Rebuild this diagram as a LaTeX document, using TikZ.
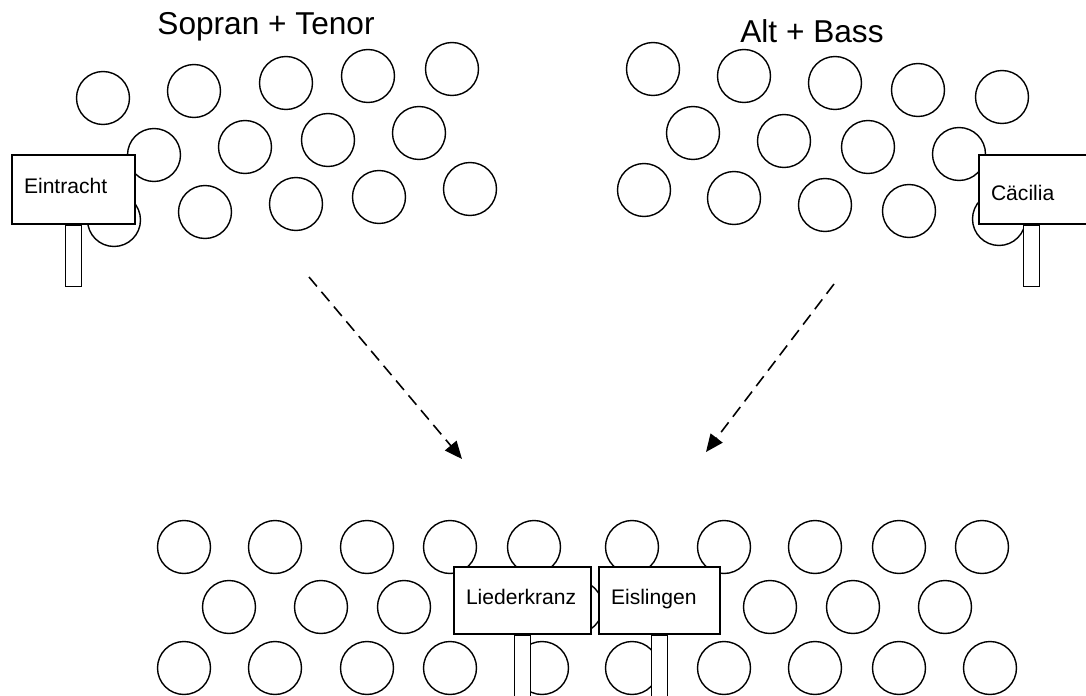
\documentclass[tikz,border=0pt]{standalone}
\usepackage{fontspec}
\setmainfont{Liberation Sans}
\usetikzlibrary{positioning,arrows.meta}

\begin{document}
\begin{tikzpicture}[x=0.02cm,y=-0.02cm,
        singer/.style={line width=0.8pt},
        sign/.style={draw,fill=white,line width=0.8pt,font=\fontsize{12}{14}\selectfont,inner xsep=0.24cm,inner ysep=0pt,align=left,text height=4pt,text depth=0pt},
        post/.style={draw,fill=white,line width=0.8pt,minimum width=0.33cm,minimum height=1.22cm,inner sep=0pt},
        title/.style={font=\fontsize{18}{22}\selectfont,anchor=base},
        move/.style={dash pattern=on 7pt off 4pt,line width=0.9pt,-{Triangle[length=10pt,width=8.5pt]}}]
            \useasboundingbox (0,0) rectangle (1086,696);
            \clip (0,0) rectangle (1086,696);

            \node[title] (sopran) at (266,35) {Sopran + Tenor};
            \node[title] (alt) at (812,43) {Alt + Bass};

            % Sopran + Tenor
            \foreach \px/\py in {103/98,194/91,286/83,368/76,452/69,
                                 154/155,245/147,328/140,419/133,
                                 114/220,205/212,296/204,379/197,470/189}
                \draw[singer] (\px,\py) circle[radius=0.53cm];

            % Alt + Bass
            \foreach \px/\py in {653/69,744/76,835/83,918/90,1002/97,
                                 693/133,784/141,868/147,959/154,
                                 644/190,734/198,825/205,909/211,999/219}
                \draw[singer] (\px,\py) circle[radius=0.53cm];

            % gemeinsam
            \foreach \px in {184,275,367,450,534,632,724,815,899,982}
                \draw[singer] (\px,547) circle[radius=0.53cm];
            \foreach \px in {229,321,404,576,770,853,945}
                \draw[singer] (\px,607) circle[radius=0.53cm];
            \foreach \px in {184,275,367,450,542,632,724,815,899,990}
                \draw[singer] (\px,668) circle[radius=0.53cm];

            \node[sign,text width=1.98cm,minimum height=1.38cm] (eintracht) at (73.5,189.5) {Eintracht};
            \node[post,below=0pt of eintracht] (eintrachtpost) {};

            \node[sign,text width=1.74cm,minimum height=1.38cm,text height=12pt] (caecilia) at (1034.5,189.5) {Cäcilia};
            \node[post,below=0pt of caecilia,xshift=-0.06cm] (caeciliapost) {};

            \node[sign,text width=2.26cm,minimum height=1.34cm] (liederkranz) at (522.5,600.5) {Liederkranz};
            \node[post,below=0pt of liederkranz] (liederkranzpost) {};

            \node[sign,text width=1.94cm,minimum height=1.34cm] (eislingen) at (659.5,600.5) {Eislingen};
            \node[post,below=0pt of eislingen] (eislingenpost) {};

            \coordinate (stfrom) at (309,277);
            \coordinate (stto) at (462,459);
            \coordinate (abfrom) at (834,284);
            \coordinate (abto) at (706,452);
            \draw[move] (stfrom) -- (stto);
            \draw[move] (abfrom) -- (abto);
        \end{tikzpicture}
\end{document}
